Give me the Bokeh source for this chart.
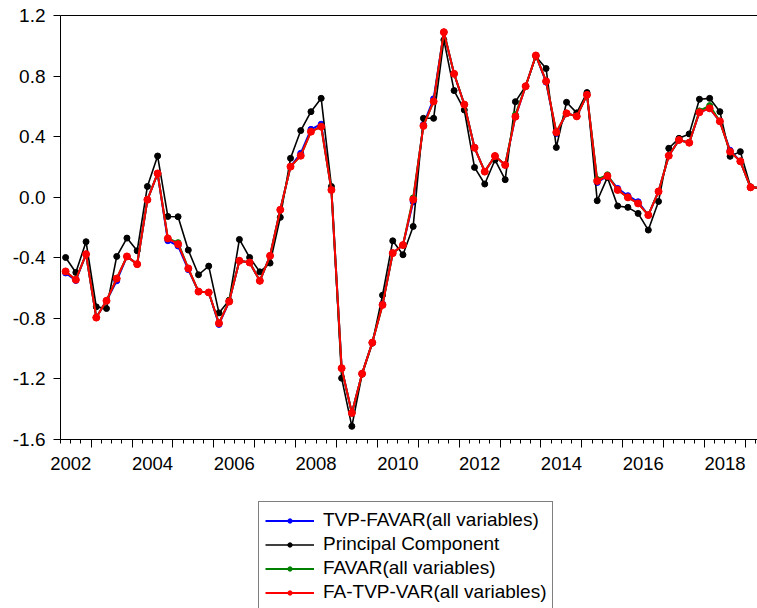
from bokeh.plotting import figure
from bokeh.layouts import column
from bokeh.models import (LinearAxis, FixedTicker, Range1d, Legend, LegendItem,
                          ColumnDataSource, PrintfTickFormatter, CustomJSTickFormatter)
from bokeh.embed import file_html
from bokeh.resources import INLINE

# quarterly series starting 2002Q2
start_year = 2002
start_quarter = 2

principal = [-0.398, -0.497, -0.294, -0.724, -0.735, -0.391, -0.270, -0.354, 0.071, 0.272,
             -0.127, -0.129, -0.349, -0.512, -0.455, -0.764, -0.680, -0.279, -0.398, -0.493,
             -0.435, -0.133, 0.257, 0.440, 0.565, 0.653, 0.071, -1.195, -1.513, -1.169,
             -0.964, -0.647, -0.288, -0.380, -0.193, 0.521, 0.521, 1.039, 0.704, 0.576,
             0.197, 0.087, 0.246, 0.116, 0.631, 0.733, 0.929, 0.850, 0.329, 0.627,
             0.557, 0.691, -0.023, 0.131, -0.058, -0.067, -0.107, -0.217, -0.028, 0.323,
             0.389, 0.418, 0.647, 0.653, 0.565, 0.270, 0.301, 0.069, 0.060]

fa_tvp_var = [-0.490, -0.545, -0.376, -0.795, -0.684, -0.537, -0.391, -0.442, -0.017, 0.157,
              -0.272, -0.310, -0.470, -0.623, -0.629, -0.832, -0.689, -0.420, -0.431, -0.552,
              -0.387, -0.083, 0.202, 0.274, 0.433, 0.466, 0.048, -1.129, -1.425, -1.165,
              -0.960, -0.711, -0.369, -0.316, -0.015, 0.471, 0.633, 1.090, 0.815, 0.612,
              0.327, 0.169, 0.272, 0.213, 0.532, 0.733, 0.936, 0.766, 0.429, 0.554,
              0.534, 0.676, 0.107, 0.140, 0.048, -0.001, -0.041, -0.118, 0.038, 0.274,
              0.378, 0.360, 0.561, 0.587, 0.501, 0.301, 0.237, 0.065, 0.060]

tvp_favar = [-0.500, -0.550, -0.376, -0.795, -0.684, -0.552, -0.391, -0.442, -0.017, 0.157,
             -0.287, -0.322, -0.478, -0.623, -0.629, -0.840, -0.689, -0.420, -0.431, -0.552,
             -0.387, -0.083, 0.202, 0.290, 0.448, 0.482, 0.048, -1.129, -1.425, -1.165,
             -0.960, -0.705, -0.369, -0.316, -0.030, 0.480, 0.650, 1.090, 0.815, 0.612,
             0.327, 0.169, 0.272, 0.213, 0.532, 0.733, 0.936, 0.760, 0.420, 0.554,
             0.534, 0.676, 0.097, 0.140, 0.058, 0.010, -0.030, -0.118, 0.038, 0.274,
             0.378, 0.360, 0.561, 0.587, 0.501, 0.310, 0.237, 0.065, 0.060]

favar = [-0.490, -0.545, -0.376, -0.795, -0.684, -0.537, -0.391, -0.442, -0.017, 0.157,
         -0.272, -0.300, -0.470, -0.623, -0.629, -0.832, -0.684, -0.420, -0.431, -0.552,
         -0.387, -0.083, 0.202, 0.274, 0.433, 0.466, 0.048, -1.129, -1.425, -1.165,
         -0.960, -0.711, -0.369, -0.316, -0.005, 0.471, 0.633, 1.090, 0.815, 0.612,
         0.327, 0.169, 0.272, 0.213, 0.545, 0.733, 0.936, 0.766, 0.429, 0.554,
         0.534, 0.676, 0.117, 0.148, 0.048, -0.001, -0.041, -0.118, 0.038, 0.274,
         0.378, 0.360, 0.570, 0.605, 0.501, 0.301, 0.237, 0.065, 0.060]

y_ticks = [-1.6, -1.2, -0.8, -0.4, 0.0, 0.4, 0.8, 1.2]
year_ticks = list(range(2002, 2020))
label_years = [2002, 2004, 2006, 2008, 2010, 2012, 2014, 2016, 2018]

series_names = ["TVP-FAVAR(all variables)", "Principal Component",
                "FAVAR(all variables)", "FA-TVP-VAR(all variables)"]
series_values = [tvp_favar, principal, favar, fa_tvp_var]
series_colors = ["#0000FF", "#000000", "#008000", "#FF0000"]

n = len(principal)
t = [start_year + (start_quarter - 1) / 4 + 0.25 * i + 0.125 for i in range(n)]

FONT = "Liberation Sans"
FS = "19px"

p = figure(width=757, height=480, output_backend="svg", toolbar_location=None,
           x_range=Range1d(2002.25, 2019.295), y_range=Range1d(-1.6, 1.2),
           x_axis_location=None, y_axis_location=None,
           min_border_left=60, min_border_right=0, min_border_top=15, min_border_bottom=41)
p.outline_line_color = None
p.grid.visible = False
p.background_fill_color = "white"
p.border_fill_color = "white"

# left axis
yax = LinearAxis(ticker=FixedTicker(ticks=y_ticks, minor_ticks=[]),
                 formatter=PrintfTickFormatter(format="%.1f"))
yax.major_tick_out = 7
yax.major_tick_in = 0
yax.minor_tick_out = 0
yax.major_label_standoff = 8
yax.major_label_text_font = FONT
yax.major_label_text_font_size = FS
yax.major_label_text_color = "black"
yax.axis_line_color = "black"
yax.major_tick_line_color = "black"
p.add_layout(yax, "left")

# bottom tick axis (year major ticks, quarter minor ticks)
minor = [y + q / 4 for y in range(2002, 2020) for q in range(4)]
xticks_ax = LinearAxis(ticker=FixedTicker(ticks=year_ticks, minor_ticks=minor),
                       formatter=CustomJSTickFormatter(code="return ''"))
xticks_ax.major_tick_out = 8
xticks_ax.major_tick_in = 0
xticks_ax.minor_tick_out = 4
xticks_ax.minor_tick_in = 0
xticks_ax.major_label_text_font_size = "1px"
xticks_ax.major_label_standoff = 0
xticks_ax.axis_line_color = "black"
xticks_ax.major_tick_line_color = "black"
xticks_ax.minor_tick_line_color = "black"
p.add_layout(xticks_ax, "below")

# bottom label axis (labels centred in each year)
xlab_ax = LinearAxis(ticker=FixedTicker(ticks=[y + 0.5 for y in label_years], minor_ticks=[]),
                     formatter=CustomJSTickFormatter(code="return Math.floor(tick).toString()"))
xlab_ax.major_tick_out = 0
xlab_ax.major_tick_in = 0
xlab_ax.minor_tick_out = 0
xlab_ax.axis_line_color = None
xlab_ax.major_tick_line_color = None
xlab_ax.major_label_standoff = 9
xlab_ax.major_label_text_font = FONT
xlab_ax.major_label_text_font_size = "18.5px"
xlab_ax.major_label_text_color = "black"
p.add_layout(xlab_ax, "below")

# top frame line
top_ax = LinearAxis(ticker=FixedTicker(ticks=[], minor_ticks=[]))
top_ax.major_tick_out = 0
top_ax.major_tick_in = 0
top_ax.minor_tick_out = 0
top_ax.major_label_text_font_size = "1px"
top_ax.major_label_standoff = 0
top_ax.axis_line_color = "black"
p.add_layout(top_ax, "above")

# legend panel below the chart
pl = figure(width=757, height=128, output_backend="svg", toolbar_location=None,
            x_range=Range1d(0, 1), y_range=Range1d(0, 1),
            x_axis_location=None, y_axis_location=None,
            min_border_left=0, min_border_right=0, min_border_top=0, min_border_bottom=0)
pl.outline_line_color = None
pl.grid.visible = False

items = []
widths = [2, 1.6, 2, 2]
sizes = [6, 6, 6, 7]
for name, vals, col, lw, sz in zip(series_names, series_values, series_colors, widths, sizes):
    src = ColumnDataSource(dict(t=t, v=vals))
    p.line("t", "v", source=src, line_color=col, line_width=lw)
    p.scatter("t", "v", source=src, marker="circle", size=sz,
              fill_color=col, line_color=col)
    # legend keys only: a point placed outside this panel's visible range
    key_src = ColumnDataSource(dict(t=[-10, -11], v=[-10, -11]))
    k1 = pl.line("t", "v", source=key_src, line_color=col, line_width=lw)
    k2 = pl.scatter("t", "v", source=key_src, marker="circle", size=5,
                    fill_color=col, line_color=col)
    items.append(LegendItem(label=name, renderers=[k1, k2]))

legend = Legend(items=items, location=(198, -3))
legend.label_text_font = FONT
legend.label_text_font_size = FS
legend.label_text_color = "black"
legend.glyph_width = 49
legend.glyph_height = 11
legend.label_height = 24
legend.label_standoff = 9
legend.spacing = 0
legend.padding = 6
legend.margin = 0
legend.border_line_color = "black"
legend.border_line_width = 1
legend.background_fill_color = "white"
legend.background_fill_alpha = 1
pl.add_layout(legend)

layout = column(p, pl, spacing=0)
open("out.html", "w").write(file_html(layout, INLINE))
